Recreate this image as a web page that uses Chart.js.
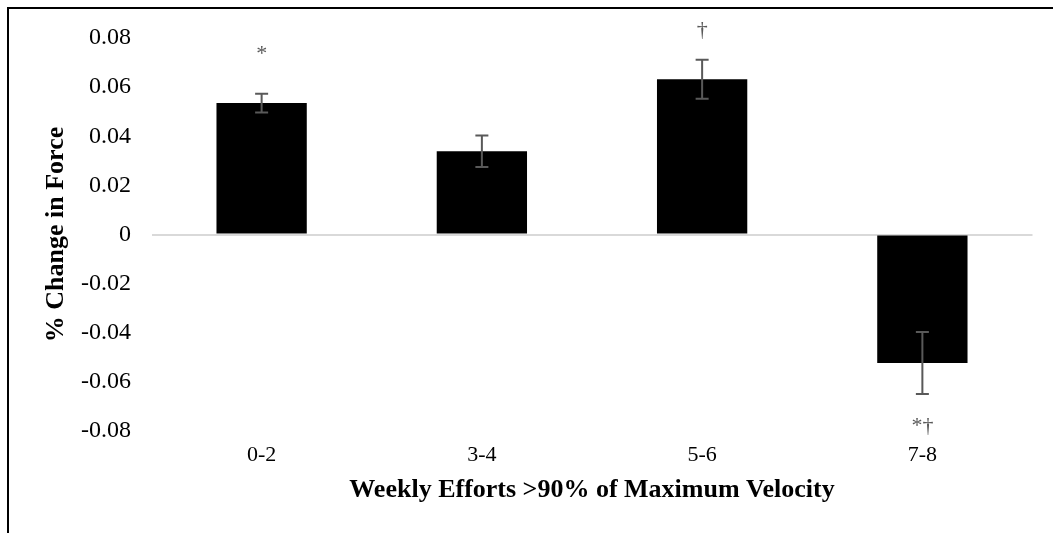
<!DOCTYPE html>
<html>
<head>
<meta charset="utf-8">
<script src="https://cdn.jsdelivr.net/npm/chart.js@4.4.1/dist/chart.umd.min.js"></script>
<style>
  html, body { margin: 0; padding: 0; background: #fff; }
  #wrap { position: relative; width: 1053px; height: 533px; overflow: hidden; }
  #frame { position: absolute; left: 7px; top: 7px; width: 1100px; height: 600px;
           border-left: 2px solid #000; border-top: 2px solid #000; pointer-events: none; }
  canvas { position: absolute; left: 0; top: 0; }
</style>
</head>
<body>
<div id="wrap">
  <canvas id="c" width="1053" height="533"></canvas>
  <div id="frame"></div>
</div>
<script>
// ---- data ----
const categories = ['0-2', '3-4', '5-6', '7-8'];
const changeValues = [0.0535, 0.0339, 0.0632, -0.0523];
const errorValues = [0.0038, 0.0064, 0.0079, 0.0126];
const significance = ['*', '', '\u2020', '*\u2020'];
const yTicks = [-0.08, -0.06, -0.04, -0.02, 0, 0.02, 0.04, 0.06, 0.08];
const xTitle = 'Weekly Efforts >90% of Maximum Velocity';
const yTitle = '% Change in Force';

const SERIF = "'Liberation Serif', 'Times New Roman', serif";

const errorBarPlugin = {
  id: 'errorBars',
  afterDatasetsDraw(chart) {
    const meta = chart.getDatasetMeta(0);
    const ys = chart.scales.y;
    const ctx = chart.ctx;
    ctx.save();
    ctx.strokeStyle = '#595959';
    ctx.lineWidth = 2;
    meta.data.forEach((bar, i) => {
      const v = changeValues[i], e = errorValues[i];
      const yTop = ys.getPixelForValue(v + e);
      const yBot = ys.getPixelForValue(v - e);
      const x = bar.x;
      const cap = 6.5;
      ctx.beginPath();
      ctx.moveTo(x, yTop); ctx.lineTo(x, yBot);
      ctx.moveTo(x - cap, yTop); ctx.lineTo(x + cap, yTop);
      ctx.moveTo(x - cap, yBot); ctx.lineTo(x + cap, yBot);
      ctx.stroke();
    });
    // significance markers
    ctx.fillStyle = '#595959';
    ctx.font = '22px ' + SERIF;
    ctx.textAlign = 'center';
    ctx.textBaseline = 'alphabetic';
    meta.data.forEach((bar, i) => {
      const s = significance[i];
      if (!s) return;
      const v = changeValues[i];
      const yv = ys.getPixelForValue(v);
      const yb = v >= 0 ? yv - 43 : yv + 69;
      ctx.fillText(s, bar.x, yb);
    });
    ctx.restore();
  }
};

new Chart(document.getElementById('c'), {
  type: 'bar',
  data: {
    labels: categories,
    datasets: [{
      data: changeValues,
      backgroundColor: '#000000',
      borderColor: '#000000',
      borderWidth: 0,
      categoryPercentage: 1.0,
      barPercentage: 0.41
    }]
  },
  options: {
    responsive: false,
    animation: false,
    devicePixelRatio: 1,
    layout: { padding: { top: 38, left: 0, right: 20.5, bottom: 0 } },
    plugins: {
      legend: { display: false },
      tooltip: { enabled: false }
    },
    scales: {
      x: {
        grid: { display: false, drawTicks: false },
        border: { display: false },
        ticks: {
          color: '#000',
          font: { family: SERIF, size: 22 },
          padding: 11
        },
        title: {
          display: true,
          text: xTitle,
          color: '#000',
          font: { family: SERIF, size: 26, weight: 'bold' },
          padding: { top: 0, bottom: 27 }
        },
        afterFit(scale) { scale.height = 102; }
      },
      y: {
        min: -0.08,
        max: 0.08,
        afterBuildTicks(scale) { scale.ticks = yTicks.map(v => ({ value: v })); },
        grid: {
          drawTicks: false,
          color: (ctx) => (ctx.tick && ctx.tick.value === 0 ? '#d9d9d9' : 'rgba(0,0,0,0)'),
          lineWidth: 2
        },
        border: { display: false },
        ticks: {
          color: '#000',
          font: { family: SERIF, size: 24 },
          padding: 20.5,
          callback: (v) => (v === 0 ? '0' : Number(v).toFixed(2))
        },
        title: {
          display: true,
          text: yTitle,
          color: '#000',
          font: { family: SERIF, size: 26, weight: 'bold' },
          padding: { top: 41, bottom: 0 }
        },
        afterFit(scale) { scale.width = 151.5; }
      }
    }
  },
  plugins: [errorBarPlugin]
});
</script>
</body>
</html>
